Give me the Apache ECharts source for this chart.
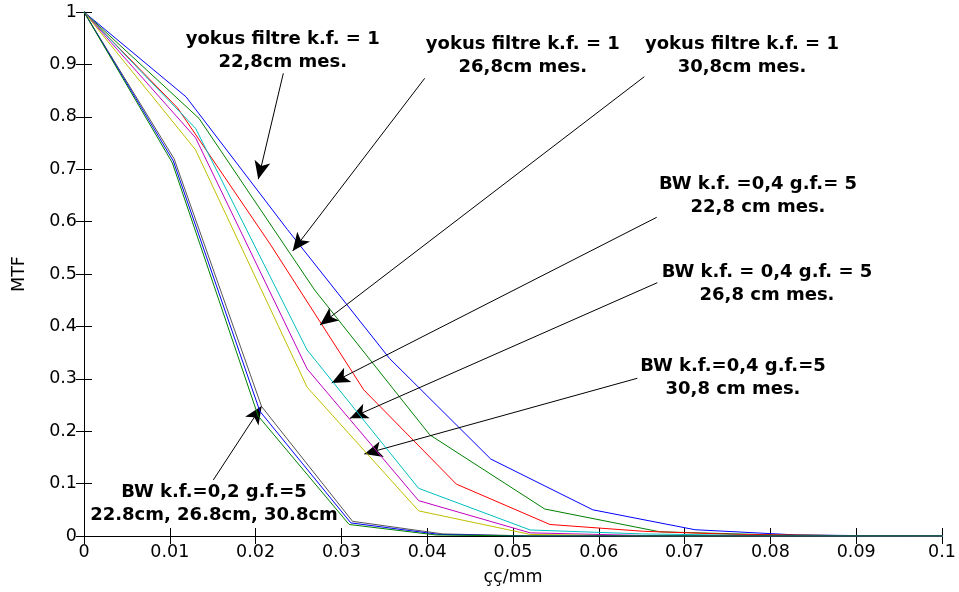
<!DOCTYPE html>
<html>
<head>
<meta charset="utf-8">
<script src="https://cdn.jsdelivr.net/npm/echarts@6/dist/echarts.min.js"></script>
<style>html,body{margin:0;padding:0;background:#fff}#c{width:959px;height:592px}</style>
</head>
<body>
<div id="c"></div>
<script>
// ---- data ----
const xTickLabels = ['0','0.01','0.02','0.03','0.04','0.05','0.06','0.07','0.08','0.09','0.1'];
const yTickLabels = ['0','0.1','0.2','0.3','0.4','0.5','0.6','0.7','0.8','0.9','1'];

const xYokus228 = [0, 0.0119, 0.0237, 0.0356, 0.0474, 0.0593, 0.0712, 0.0830, 0.0949, 0.1067];
const yYokus228 = [1, 0.838, 0.585, 0.339, 0.147, 0.050, 0.012, 0.002, 0, 0];
const xYokus268 = [0, 0.0134, 0.0269, 0.0403, 0.0537, 0.0671, 0.0806, 0.0940, 0.1074];
const yYokus268 = [1, 0.797, 0.469, 0.193, 0.0515, 0.008, 0.002, 0, 0];
const xYokus308 = [0, 0.0109, 0.0217, 0.0326, 0.0434, 0.0543, 0.0652, 0.0760, 0.0869, 0.0977, 0.1086];
const yYokus308 = [1, 0.817, 0.557, 0.279, 0.099, 0.022, 0.009, 0.003, 0.001, 0, 0];
const xBW04 = [0, 0.0130, 0.0260, 0.0390, 0.0520, 0.0650, 0.0780, 0.0910, 0.1040];
const yBW04_228 = [1, 0.778, 0.355, 0.091, 0.0115, 0.004, 0.001, 0, 0];
const yBW04_268 = [1, 0.760, 0.319, 0.0675, 0.006, 0.001, 0, 0, 0];
const yBW04_308 = [1, 0.737, 0.284, 0.048, 0.003, 0, 0, 0, 0];
const xBW02_228 = [0, 0.0105, 0.0207, 0.0313, 0.0418, 0.0523, 0.0627, 0.0732, 0.0836, 0.0941, 0.1045];
const yBW02_228 = [1, 0.720, 0.247, 0.028, 0.004, 0, 0, 0, 0, 0, 0];
const xBW02_268 = [0, 0.0104, 0.0205, 0.0311, 0.0414, 0.0518, 0.0621, 0.0725, 0.0828, 0.0932, 0.1035];
const yBW02_268 = [1, 0.716, 0.238, 0.025, 0.003, 0, 0, 0, 0, 0, 0];
const xBW02_308 = [0, 0.0103, 0.0203, 0.0309, 0.0410, 0.0513, 0.0615, 0.0718, 0.0820, 0.0923, 0.1026];
const yBW02_308 = [1, 0.712, 0.229, 0.022, 0.002, 0, 0, 0, 0, 0, 0];

const curveNames = ['yokus 22,8','yokus 26,8','yokus 30,8','BW0,4 22,8','BW0,4 26,8','BW0,4 30,8','BW0,2 22,8','BW0,2 26,8','BW0,2 30,8'];
const curveX = [xYokus228, xYokus268, xYokus308, xBW04, xBW04, xBW04, xBW02_228, xBW02_268, xBW02_308];
const curveY = [yYokus228, yYokus268, yYokus308, yBW04_228, yBW04_268, yBW04_308, yBW02_228, yBW02_268, yBW02_308];
const curveColors = ['#0000ff','#008000','#ff0000','#00bfbf','#bf00bf','#bfbf00','#555555','#0000ff','#008000'];

// annotation arrows: [tailX, tailY, tipX, tipY] in data units
const arrowTails = [[0.02323,0.883],[0.03971,0.8735],[0.0653,0.8765],[0.06675,0.6082],[0.06682,0.4834],[0.06449,0.301],[0.01507,0.1069]];
const arrowTips  = [[0.02031,0.681],[0.02432,0.5439],[0.02751,0.4027],[0.02887,0.292],[0.0310,0.2246],[0.03267,0.1565],[0.02071,0.2481]];
const annTexts = [
  'yokus filtre k.f. = 1\n22,8cm mes.',
  'yokus filtre k.f. = 1\n26,8cm mes.',
  'yokus filtre k.f. = 1\n30,8cm mes.',
  'BW k.f. =0,4 g.f.= 5\n22,8 cm mes.',
  'BW k.f. = 0,4 g.f. = 5\n26,8 cm mes.',
  'BW k.f.=0,4 g.f.=5\n30,8 cm mes.',
  'BW k.f.=0,2 g.f.=5\n22.8cm, 26.8cm, 30.8cm'
];
const annPos = [[282.7,51],[522.8,56],[742,55.6],[758,195.8],[767,283.8],[733,378],[214,503.6]];

// ---- chart ----
const FONT = 'DejaVu Sans';
const chart = echarts.init(document.getElementById('c'), null, {renderer:'canvas'});
const series = curveNames.map((n,i)=>({
  name:n, type:'line', showSymbol:false, symbol:'none', animation:false,
  lineStyle:{color:curveColors[i], width:1},
  itemStyle:{color:curveColors[i]},
  data: curveX[i].map((x,j)=>[x, curveY[i][j]]),
  z: 2+i
}));
series.push({
  type:'line', data:[], animation:false, silent:true,
  markLine:{
    silent:true, animation:false,
    symbol:['none','arrow'], symbolSize:[12,18],
    lineStyle:{color:'#000', width:1, type:'solid'},
    label:{show:false},
    data: arrowTails.map((t,i)=>[{coord:t, symbol:'none'},{coord:arrowTips[i], symbol:'arrow'}])
  },
  z: 20
});
const axisCommon = {
  type:'value', min:0, splitLine:{show:false},
  axisLine:{show:true, lineStyle:{color:'#000', width:1}},
  axisTick:{show:true, inside:true, length:8, lineStyle:{color:'#000'}}
};
chart.setOption({
  animation:false,
  backgroundColor:'#fff',
  grid:{left:84, right:17, top:12, bottom:56, containLabel:false},
  xAxis:[
    Object.assign({}, axisCommon, {max:0.1, interval:0.01, position:'bottom',
      axisLabel:{show:true, margin:7, color:'#000', fontFamily:FONT, fontSize:17.5,
        formatter:(v)=>xTickLabels[Math.round(v/0.01)]},
      name:'çç/mm', nameLocation:'middle', nameGap:32,
      nameTextStyle:{color:'#000', fontFamily:FONT, fontSize:17.5}}),
    Object.assign({}, axisCommon, {max:0.1, interval:0.01, position:'top', axisLabel:{show:false}})
  ],
  yAxis:[
    Object.assign({}, axisCommon, {max:1, interval:0.1, position:'left',
      axisLabel:{show:true, margin:7, color:'#000', fontFamily:FONT, fontSize:17.5,
        formatter:(v)=>yTickLabels[Math.round(v/0.1)]},
      name:'MTF', nameLocation:'middle', nameGap:56,
      nameTextStyle:{color:'#000', fontFamily:FONT, fontSize:17.5}}),
    Object.assign({}, axisCommon, {max:1, interval:0.1, position:'right', axisLabel:{show:false}})
  ],
  series: series,
  graphic: annTexts.map((t,i)=>({
    type:'text', x:annPos[i][0], y:annPos[i][1], z:100,
    style:{text:t, fill:'#000', font:'bold 18px "DejaVu Sans"', textAlign:'center', textVerticalAlign:'middle', lineHeight:22.5}
  }))
});
</script>
</body>
</html>
